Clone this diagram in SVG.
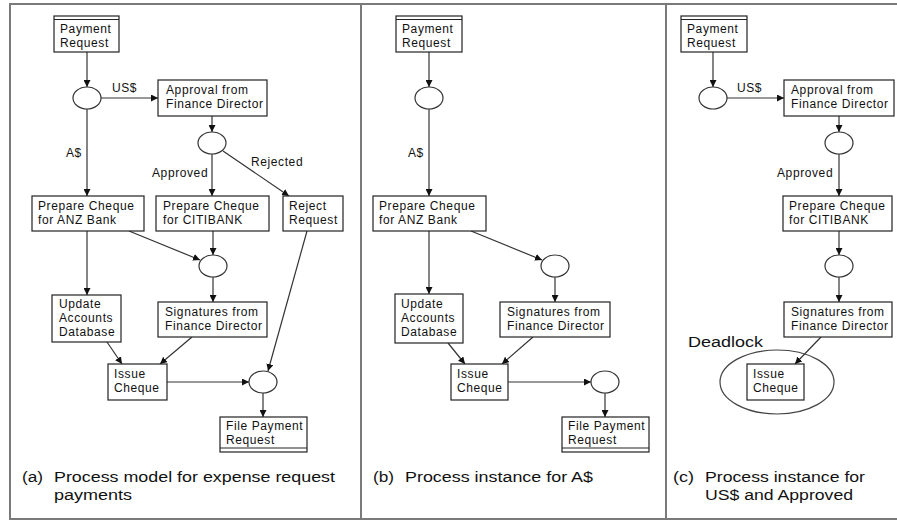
<svg xmlns="http://www.w3.org/2000/svg" width="897" height="521" viewBox="0 0 897 521">
<style>
.frame{stroke:#7a7a7a;stroke-width:2;fill:none}
.box{fill:#fff;stroke:#222;stroke-width:1.2}
.place{fill:#fff;stroke:#333;stroke-width:1.2}
.dl{stroke:#222;stroke-width:1}
.t{font-family:"Liberation Sans",Arial,sans-serif;font-size:12px;letter-spacing:0.6px;fill:#111}
.lbl{font-family:"Liberation Sans",Arial,sans-serif;font-size:12px;letter-spacing:0.6px;fill:#111}
.cap{font-family:"Liberation Sans",Arial,sans-serif;font-size:15.5px;fill:#111}
.arc{stroke:#333;stroke-width:1.2;fill:none;marker-end:url(#ah)}
</style>
<defs>
<marker id="ah" viewBox="0 0 10 10" refX="10" refY="5" markerWidth="7" markerHeight="7" markerUnits="userSpaceOnUse" orient="auto">
<path d="M0,0 L10,5 L0,10 z" fill="#111"/>
</marker>
</defs>
<rect width="897" height="521" fill="#fff"/>
<g id="frame">
<line class="frame" x1="9" y1="4" x2="897" y2="4"/>
<line class="frame" x1="9" y1="519" x2="897" y2="519"/>
<line class="frame" x1="10" y1="4" x2="10" y2="519"/>
<line class="frame" x1="361" y1="4" x2="361" y2="519"/>
<line class="frame" x1="666" y1="4" x2="666" y2="519"/>
</g>

<g id="connectors">
<!-- panel a -->
<line class="arc" x1="87" y1="52" x2="87" y2="87"/>
<line class="arc" x1="101" y1="98" x2="158" y2="98"/>
<line class="arc" x1="87" y1="109" x2="87" y2="196"/>
<line class="arc" x1="212" y1="116" x2="212" y2="132"/>
<line class="arc" x1="212" y1="154" x2="212" y2="196"/>
<line class="arc" x1="223" y1="151" x2="289" y2="196"/>
<line class="arc" x1="129" y1="231" x2="200" y2="260"/>
<line class="arc" x1="213" y1="231" x2="213" y2="255"/>
<line class="arc" x1="87" y1="231" x2="87" y2="295"/>
<line class="arc" x1="213" y1="277" x2="213" y2="302"/>
<line class="arc" x1="107" y1="342" x2="122" y2="364"/>
<line class="arc" x1="192" y1="337" x2="160" y2="364"/>
<line class="arc" x1="167" y1="382" x2="249" y2="382"/>
<line class="arc" x1="307" y1="231" x2="268" y2="371"/>
<line class="arc" x1="263" y1="393" x2="263" y2="417"/>
<!-- panel b -->
<line class="arc" x1="429" y1="52" x2="429" y2="87"/>
<line class="arc" x1="429" y1="109" x2="429" y2="196"/>
<line class="arc" x1="471" y1="231" x2="542" y2="260"/>
<line class="arc" x1="429" y1="231" x2="429" y2="294"/>
<line class="arc" x1="555" y1="277" x2="555" y2="302"/>
<line class="arc" x1="448" y1="343" x2="465" y2="364"/>
<line class="arc" x1="533" y1="337" x2="502" y2="364"/>
<line class="arc" x1="508" y1="382" x2="591" y2="382"/>
<line class="arc" x1="605" y1="393" x2="605" y2="417"/>
<!-- panel c -->
<line class="arc" x1="713" y1="52" x2="713" y2="87"/>
<line class="arc" x1="727" y1="98" x2="784" y2="98"/>
<line class="arc" x1="839" y1="116" x2="839" y2="132"/>
<line class="arc" x1="839" y1="154" x2="839" y2="196"/>
<line class="arc" x1="839" y1="231" x2="839" y2="255"/>
<line class="arc" x1="839" y1="277" x2="839" y2="302"/>
<line class="arc" x1="821" y1="337" x2="795" y2="364"/>
<!-- arc labels -->
<text class="lbl" x="112" y="92">US$</text>
<text class="lbl" x="66" y="157">A$</text>
<text class="lbl" x="152" y="177">Approved</text>
<text class="lbl" x="251" y="166">Rejected</text>
<text class="lbl" x="408" y="157">A$</text>
<text class="lbl" x="737" y="92">US$</text>
<text class="lbl" x="777" y="177">Approved</text>
</g>

<!-- ===== Panel (a) ===== -->
<g id="a-payment-request">
<rect class="box" x="54" y="16" width="65" height="36"/>
<line class="dl" x1="54" y1="19.5" x2="119" y2="19.5"/>
<text class="t" x="60" y="33">Payment</text>
<text class="t" x="60" y="47">Request</text>
</g>
<g id="a-p1"><ellipse class="place" cx="87" cy="98" rx="14" ry="11"/></g>
<g id="a-approval">
<rect class="box" x="158" y="80" width="109" height="36"/>
<text class="t" x="166" y="94">Approval from</text>
<text class="t" x="166" y="108">Finance Director</text>
</g>
<g id="a-p2"><ellipse class="place" cx="212" cy="143" rx="14" ry="11"/></g>
<g id="a-anz">
<rect class="box" x="32" y="196" width="112" height="35"/>
<text class="t" x="38" y="210">Prepare Cheque</text>
<text class="t" x="38" y="224">for ANZ Bank</text>
</g>
<g id="a-citi">
<rect class="box" x="156" y="196" width="113" height="35"/>
<text class="t" x="163" y="210">Prepare Cheque</text>
<text class="t" x="163" y="224">for CITIBANK</text>
</g>
<g id="a-reject">
<rect class="box" x="283" y="196" width="60" height="35"/>
<text class="t" x="289" y="210">Reject</text>
<text class="t" x="289" y="224">Request</text>
</g>
<g id="a-p3"><ellipse class="place" cx="213" cy="266" rx="14" ry="11"/></g>
<g id="a-update">
<rect class="box" x="52" y="295" width="69" height="47"/>
<text class="t" x="59" y="308">Update</text>
<text class="t" x="59" y="322">Accounts</text>
<text class="t" x="59" y="336">Database</text>
</g>
<g id="a-signatures">
<rect class="box" x="158" y="302" width="109" height="35"/>
<text class="t" x="165" y="316">Signatures from</text>
<text class="t" x="165" y="330">Finance Director</text>
</g>
<g id="a-issue">
<rect class="box" x="108" y="364" width="59" height="36"/>
<text class="t" x="114" y="378">Issue</text>
<text class="t" x="114" y="392">Cheque</text>
</g>
<g id="a-p4"><ellipse class="place" cx="263" cy="382" rx="14" ry="11"/></g>
<g id="a-file">
<rect class="box" x="220" y="417" width="87" height="35"/>
<line class="dl" x1="220" y1="448" x2="307" y2="448"/>
<text class="t" x="226" y="430">File Payment</text>
<text class="t" x="226" y="444">Request</text>
</g>
<g id="a-caption">
<text class="cap" x="22" y="482" textLength="21" lengthAdjust="spacingAndGlyphs">(a)</text>
<text class="cap" x="54" y="482" textLength="281" lengthAdjust="spacingAndGlyphs">Process model for expense request</text>
<text class="cap" x="54" y="500" textLength="78" lengthAdjust="spacingAndGlyphs">payments</text>
</g>

<!-- ===== Panel (b) ===== -->
<g id="b-payment-request">
<rect class="box" x="396" y="16" width="66" height="36"/>
<line class="dl" x1="396" y1="19.5" x2="462" y2="19.5"/>
<text class="t" x="402" y="33">Payment</text>
<text class="t" x="402" y="47">Request</text>
</g>
<g id="b-p1"><ellipse class="place" cx="429" cy="98" rx="14" ry="11"/></g>
<g id="b-anz">
<rect class="box" x="373" y="196" width="113" height="35"/>
<text class="t" x="379" y="210">Prepare Cheque</text>
<text class="t" x="379" y="224">for ANZ Bank</text>
</g>
<g id="b-p2"><ellipse class="place" cx="555" cy="266" rx="14" ry="11"/></g>
<g id="b-update">
<rect class="box" x="395" y="294" width="68" height="49"/>
<text class="t" x="401" y="308">Update</text>
<text class="t" x="401" y="322">Accounts</text>
<text class="t" x="401" y="336">Database</text>
</g>
<g id="b-signatures">
<rect class="box" x="500" y="302" width="110" height="35"/>
<text class="t" x="507" y="316">Signatures from</text>
<text class="t" x="507" y="330">Finance Director</text>
</g>
<g id="b-issue">
<rect class="box" x="451" y="364" width="57" height="36"/>
<text class="t" x="457" y="378">Issue</text>
<text class="t" x="457" y="392">Cheque</text>
</g>
<g id="b-p3"><ellipse class="place" cx="605" cy="382" rx="14" ry="11"/></g>
<g id="b-file">
<rect class="box" x="562" y="417" width="87" height="35"/>
<line class="dl" x1="562" y1="448" x2="649" y2="448"/>
<text class="t" x="568" y="430">File Payment</text>
<text class="t" x="568" y="444">Request</text>
</g>
<g id="b-caption">
<text class="cap" x="373" y="482" textLength="21" lengthAdjust="spacingAndGlyphs">(b)</text>
<text class="cap" x="405" y="482" textLength="188" lengthAdjust="spacingAndGlyphs">Process instance for A$</text>
</g>

<!-- ===== Panel (c) ===== -->
<g id="c-payment-request">
<rect class="box" x="681" y="16" width="66" height="36"/>
<line class="dl" x1="681" y1="19.5" x2="747" y2="19.5"/>
<text class="t" x="687" y="33">Payment</text>
<text class="t" x="687" y="47">Request</text>
</g>
<g id="c-p1"><ellipse class="place" cx="713" cy="98" rx="14" ry="11"/></g>
<g id="c-approval">
<rect class="box" x="784" y="80" width="110" height="36"/>
<text class="t" x="791" y="94">Approval from</text>
<text class="t" x="791" y="108">Finance Director</text>
</g>
<g id="c-p2"><ellipse class="place" cx="839" cy="143" rx="14" ry="11"/></g>
<g id="c-citi">
<rect class="box" x="783" y="196" width="109" height="35"/>
<text class="t" x="789" y="210">Prepare Cheque</text>
<text class="t" x="789" y="224">for CITIBANK</text>
</g>
<g id="c-p3"><ellipse class="place" cx="839" cy="266" rx="14" ry="11"/></g>
<g id="c-signatures">
<rect class="box" x="784" y="302" width="108" height="35"/>
<text class="t" x="791" y="316">Signatures from</text>
<text class="t" x="791" y="330">Finance Director</text>
</g>
<g id="c-deadlock">
<ellipse cx="777" cy="382" rx="57" ry="32" fill="none" stroke="#444" stroke-width="1.2"/>
<text class="cap" x="688" y="347" textLength="75" lengthAdjust="spacingAndGlyphs">Deadlock</text>
</g>
<g id="c-issue">
<rect class="box" x="747" y="364" width="57" height="36"/>
<text class="t" x="753" y="378">Issue</text>
<text class="t" x="753" y="392">Cheque</text>
</g>
<g id="c-caption">
<text class="cap" x="673" y="482" textLength="21" lengthAdjust="spacingAndGlyphs">(c)</text>
<text class="cap" x="705" y="482" textLength="160" lengthAdjust="spacingAndGlyphs">Process instance for</text>
<text class="cap" x="705" y="500" textLength="148" lengthAdjust="spacingAndGlyphs">US$ and Approved</text>
</g>
</svg>
